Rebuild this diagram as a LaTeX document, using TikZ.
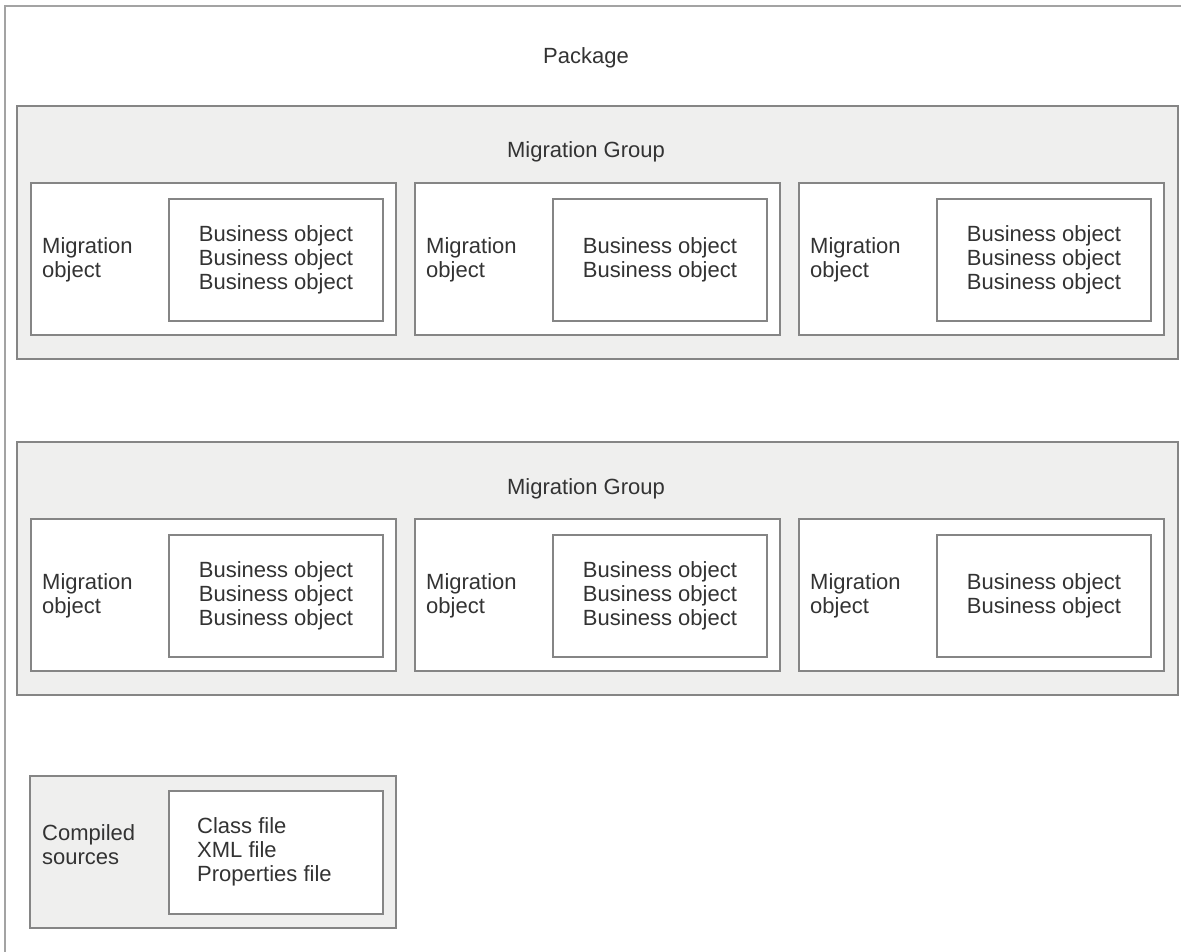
\documentclass[tikz,border=0pt]{standalone}
\usepackage{fontspec}
\setmainfont{Liberation Sans}
\usetikzlibrary{positioning}

\definecolor{boxgray}{HTML}{858585}
\definecolor{pkggray}{HTML}{A3A3A3}
\definecolor{groupfill}{HTML}{EFEFEE}
\definecolor{txtgray}{HTML}{333333}

\newcommand{\bizthree}{Business object\\Business object\\Business object}
\newcommand{\biztwo}{Business object\\Business object}

\begin{document}
\begin{tikzpicture}[x=1pt, y=-1pt,
    every node/.style={font=\fontsize{22}{24}\selectfont, text=txtgray},
    frame/.style={draw=boxgray, line width=1.8pt, rectangle, anchor=north west, inner sep=0pt},
    groupbox/.style={frame, fill=groupfill, minimum width=1161, minimum height=253},
    migbox/.style={frame, fill=white, minimum width=365, minimum height=152},
    bizbox/.style={frame, fill=white, minimum width=214, minimum height=122, align=center},
    srcbox/.style={frame, fill=groupfill, minimum width=366, minimum height=152},
    label/.style={anchor=west, align=left, inner sep=0pt}]
    \useasboundingbox (0,0) rectangle (1181,952);

    % package frame, cut off at right and bottom
    \draw[pkggray, line width=1.8pt] (5,952) -- (5,6) -- (1181,6);
    \node[anchor=base] (pkg) at (586,64) {Package};

    % migration groups
    \foreach \gy/\g in {105/1, 441/2} {
        \node[groupbox] (grp\g) at (16,\gy) {};
        \node[anchor=base] (grplabel\g) at (586,\gy+53) {Migration Group};
    }

    % migration objects with their business objects
    \foreach \ox/\oy/\nm/\txt in {30/182/11/\bizthree, 414/182/12/\biztwo, 798/182/13/\bizthree,
                                  30/518/21/\bizthree, 414/518/22/\bizthree, 798/518/23/\biztwo} {
        \node[migbox] (mo\nm) at (\ox,\oy) {};
        \node[label] (mt\nm) at (\ox+12,\oy+78) {Migration\\object};
        \node[bizbox] (bo\nm) at (\ox+138,\oy+16) {\txt};
    }

    % compiled sources
    \node[srcbox] (src) at (29,775) {};
    \node[label] (srclabel) at (42,845) {Compiled\\sources};
    \node[frame, fill=white, minimum width=214, minimum height=123] (files) at (168,790) {};
    \node[label] (filelist) at (197,852) {Class file\\XML file\\Properties file};
\end{tikzpicture}
\end{document}
